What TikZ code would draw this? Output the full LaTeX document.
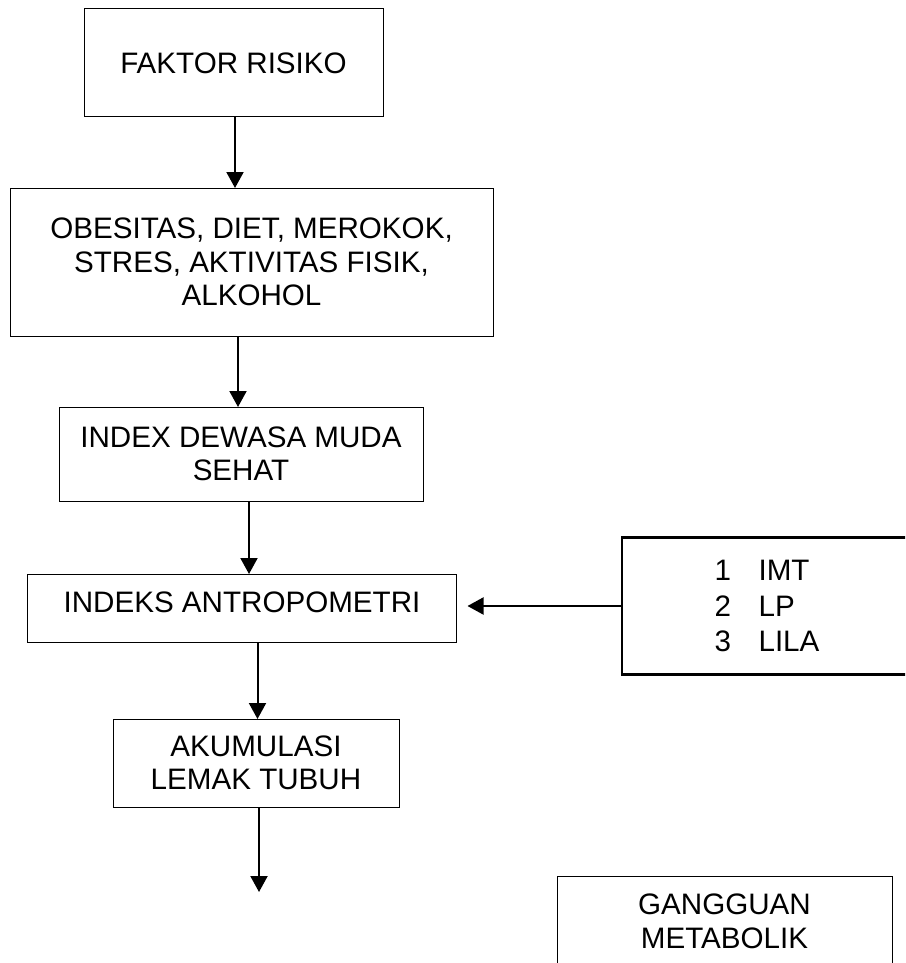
\documentclass[tikz,border=0pt]{standalone}
\usepackage{fontspec}
\setmainfont{Liberation Sans}
\usetikzlibrary{arrows.meta}

\begin{document}
\begin{tikzpicture}[x=0.5pt, y=-0.5pt,
    flowbox/.style={draw, line width=0.5pt, inner sep=0pt, outer sep=0pt, align=center,
        font=\fontsize{14.8}{16.75}\selectfont},
    flowarrow/.style={line width=1pt, -{Triangle[length=8pt, width=8.5pt]}}]
    % Page frame
    \useasboundingbox (0,0) rectangle (905,963);
    \clip (0,0) rectangle (905,963);

    % Main chain
    \node[flowbox, minimum width=149.5pt, minimum height=54pt] (faktor) at (233.5,63) {FAKTOR RISIKO};
    \node[flowbox, minimum width=241.5pt, minimum height=74pt] (obes) at (251.5,262)
        {OBESITAS, DIET, MEROKOK,\\ STRES, AKTIVITAS FISIK,\\ ALKOHOL};
    \node[flowbox, minimum width=182pt, minimum height=47pt] (index) at (241,454) {INDEX DEWASA MUDA\\ SEHAT};
    \node[flowbox, minimum width=214.5pt, minimum height=34pt, text depth=6pt] (antro) at (242,608) {INDEKS ANTROPOMETRI};
    \node[flowbox, minimum width=143pt, minimum height=44pt] (akum) at (256,763) {AKUMULASI\\ LEMAK TUBUH};

    % Side boxes
    \node[flowbox, line width=1.2pt, align=left, minimum width=145pt, minimum height=68.5pt,
        font=\fontsize{14.8}{17.75}\selectfont] (imt) at (767,606)
        {\makebox[22pt][l]{1}IMT\\ \makebox[22pt][l]{2}LP\\ \makebox[22pt][l]{3}LILA};
    \node[flowbox, minimum width=167.5pt, minimum height=45.5pt] (gangguan) at (724.5,921.5) {GANGGUAN\\ METABOLIK};

    % Arrows
    \draw[flowarrow] (faktor.south -| 235,0) -- (obes.north -| 235,0);
    \draw[flowarrow] (obes.south -| 238,0) -- (index.north -| 238,0);
    \draw[flowarrow] (index.south -| 249,0) -- (antro.north -| 249,0);
    \draw[flowarrow] (antro.south -| 257.5,0) -- (akum.north -| 257.5,0);
    \coordinate (tail) at (259,892);
    \draw[flowarrow] (akum.south -| tail) -- (tail);
    \draw[flowarrow] (imt.west) -- ([xshift=5.5pt]antro.east |- imt.west);
\end{tikzpicture}
\end{document}
